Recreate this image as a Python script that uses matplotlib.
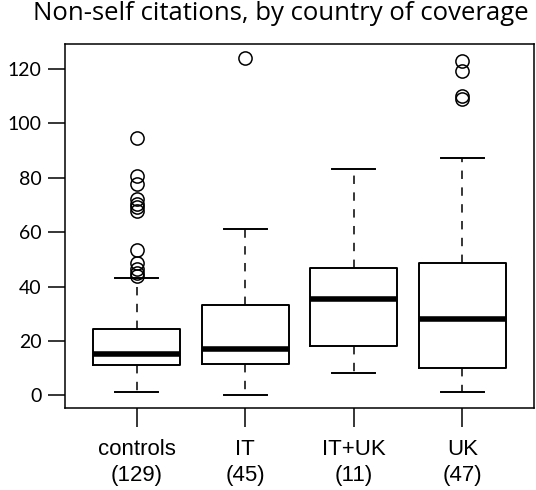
import matplotlib
matplotlib.use("Agg")
import matplotlib.pyplot as plt

categories = ["controls", "IT", "IT+UK", "UK"]
counts = [129, 45, 11, 47]
q1 = [11.1, 11.4, 18.0, 10.2]
medians = [15.3, 17.2, 35.3, 28.2]
q3 = [24.3, 33.2, 46.8, 48.8]
whislo = [1.2, 0.2, 8.3, 1.3]
whishi = [43.3, 61.3, 83.3, 87.4]
fliers = [
    [94.4, 80.6, 77.6, 72.0, 70.2, 69.4, 67.8, 53.4, 48.5, 46.6, 45.1, 43.9],
    [124.1],
    [],
    [122.9, 119.2, 110.0, 109.0],
]
title = "Non-self citations, by country of coverage"

stats = []
for i, c in enumerate(categories):
    stats.append(dict(label=f"{c}\n({counts[i]})", q1=q1[i], med=medians[i], q3=q3[i],
                      whislo=whislo[i], whishi=whishi[i], fliers=fliers[i]))

fig = plt.figure(figsize=(5.36, 4.90), dpi=100)
ax = fig.add_axes([65/536, 1-408/490, (534-65)/536, (408-44)/490])

ax.bxp(stats, positions=[1, 2, 3, 4], widths=0.8,
       boxprops=dict(color="black", linewidth=1.4),
       medianprops=dict(color="black", linewidth=4.0, solid_capstyle="butt"),
       whiskerprops=dict(color="black", linewidth=1.1, linestyle=(0, (5.5, 5.5))),
       capprops=dict(color="black", linewidth=1.4),
       capwidths=0.4,
       flierprops=dict(marker="o", markerfacecolor="none", markeredgecolor="black",
                       markersize=9.5, markeredgewidth=1.1),
       showfliers=True)

ax.set_xlim(0.34, 4.66)
ax.set_ylim(-4.6, 129.1)
ax.set_yticks([0, 20, 40, 60, 80, 100, 120])
ax.tick_params(axis="y", length=12, width=1.1, pad=5, labelsize=14)
ax.tick_params(axis="x", length=13.5, width=1.1, pad=8.5, labelsize=16)
for lab in ax.get_yticklabels():
    lab.set_fontfamily("Lato")
for lab in ax.get_xticklabels():
    lab.set_fontfamily("Liberation Sans")
    lab.set_linespacing(1.33)
for s in ax.spines.values():
    s.set_linewidth(1.1)

fig.text(281/536, 1-19.5/490, title, ha="center", va="baseline", fontsize=18.5,
         family="Open Sans")

fig.savefig("out.png", dpi=100)
